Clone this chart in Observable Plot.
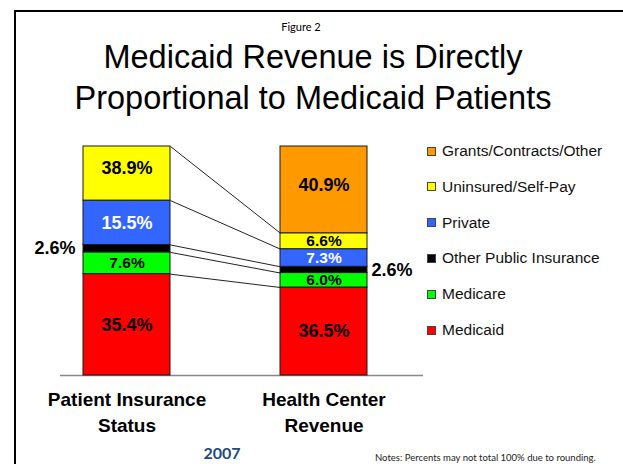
<!DOCTYPE html>
<html><head><meta charset="utf-8">
<script src="https://cdn.jsdelivr.net/npm/d3@7"></script>
<script src="https://cdn.jsdelivr.net/npm/@observablehq/plot@0.6"></script>
<style>
body{margin:0;background:#fff;}
#wrap{position:relative;width:623px;height:464px;overflow:hidden;background:#fff;font-family:"Liberation Sans",Arial,sans-serif;color:#000;}
#frame{position:absolute;left:14px;top:10px;right:-5px;bottom:-5px;border-top:2px solid #000;border-left:2px solid #000;}
.abs{position:absolute;white-space:nowrap;}
#wrap svg{position:absolute;left:0;top:0;}
</style></head><body><div id="wrap"><div id="frame"></div></div>
<script>
const categories = ["Patient Insurance\nStatus", "Health Center\nRevenue"];
const segments = ["Medicaid", "Medicare", "Other Public Insurance", "Private", "Uninsured/Self-Pay", "Grants/Contracts/Other"];
const segmentColors = ["#FF0000", "#00FF00", "#000000", "#3366FF", "#FFFF00", "#FF9900"];
const patientStatus = [35.4, 7.6, 2.6, 15.5, 38.9, 0];
const centerRevenue = [36.5, 6.0, 2.6, 7.3, 6.6, 40.9];
const figureLabel = "Figure 2";
const titleLines = ["Medicaid Revenue is Directly", "Proportional to Medicaid Patients"];
const yearLabel = "2007";
const noteText = "Notes:  Percents may not total 100% due to rounding.";

// axis extents (each bar is drawn on its own vertical scale, tops cut off)
const Y_MAX_LEFT = 80, Y_MAX_RIGHT = 95;
const X_RANGE = [83, 367], PAD = 0.56;
const BW = (X_RANGE[1] - X_RANGE[0]) / (2 - PAD) * (1 - PAD);
const FONT = "Liberation Sans, Arial, sans-serif";

function stack(cat, values, ymax) {
  let c = 0;
  return values.map((v, i) => {
    const r = {cat, seg: segments[i], value: v, y1: c, y2: c + v};
    r.mid = (r.y1 + Math.min(r.y2, ymax)) / 2;
    r.clamped = r.y2 > ymax;
    r.label = v.toFixed(1) + "%";
    c += v;
    return r;
  });
}
const leftStack = stack(categories[0], patientStatus, Y_MAX_LEFT);
const rightStack = stack(categories[1], centerRevenue, Y_MAX_RIGHT);

const common = {
  width: 623, height: 464, marginTop: 146, marginBottom: 89, marginLeft: 60, marginRight: 200,
  x: {domain: categories, range: X_RANGE, paddingInner: PAD, paddingOuter: 0, axis: null},
  color: {domain: segments, range: segmentColors},
  style: {background: "none", overflow: "visible", fontFamily: FONT}
};

function barMarks(rows, outsideAnchor, outsideDx) {
  const shown = rows.filter(d => d.value > 0);
  const inside = shown.filter(d => d.seg !== "Other Public Insurance");
  const outside = shown.filter(d => d.seg === "Other Public Insurance");
  const txt = {x: "cat", y: "mid", text: "label", fontWeight: "bold", fontFamily: FONT,
    fill: d => d.seg === "Private" ? "#fff" : "#000"};
  return [
    Plot.barY(shown, {x: "cat", y1: "y1", y2: "y2", fill: "seg", stroke: "#1a1a1a", strokeWidth: 1}),
    Plot.text(inside.filter(d => !d.clamped && d.value >= 10), {...txt, fontSize: 18}),
    Plot.text(inside.filter(d => d.value < 10), {...txt, fontSize: 15.5}),
    Plot.text(inside.filter(d => d.clamped), {...txt, fontSize: 18, dy: -5}),
    Plot.text(outside, {x: "cat", y: "mid", text: "label", fontSize: 18, fontWeight: "bold", fontFamily: FONT,
      fill: "#000", textAnchor: outsideAnchor, dx: outsideDx})
  ];
}

const plotA = Plot.plot({
  ...common,
  y: {domain: [0, Y_MAX_LEFT], clamp: true, axis: null},
  marks: [
    Plot.ruleY([0], {stroke: "#888", strokeWidth: 1.5}),
    ...barMarks(leftStack, "end", -(BW / 2 + 8)),
    Plot.text(categories, {x: d => d, frameAnchor: "bottom", lineAnchor: "top", dy: 12,
      fontSize: 19, fontWeight: "bold", fontFamily: FONT, lineHeight: 1.37, fill: "#000"})
  ]
});
const plotB = Plot.plot({
  ...common,
  y: {domain: [0, Y_MAX_RIGHT], clamp: true, axis: null},
  marks: barMarks(rightStack, "start", BW / 2 + 4)
});

const sx = plotA.scale("x");
const edgeL = sx.apply(categories[0]) + sx.bandwidth;
const edgeR = sx.apply(categories[1]);
const links = leftStack.slice(0, 5).map((d, i) => ({a: d.y2, b: rightStack[i].y2 * Y_MAX_LEFT / Y_MAX_RIGHT}));
const plotC = Plot.plot({
  width: 623, height: 464, marginTop: 146, marginBottom: 89, marginLeft: 60, marginRight: 200,
  x: {type: "linear", domain: [0, 1], range: [edgeL, edgeR], axis: null},
  y: {domain: [0, Y_MAX_LEFT], clamp: true, axis: null},
  style: {background: "none", overflow: "visible"},
  marks: [Plot.link(links, {x1: 0, x2: 1, y1: "a", y2: "b", stroke: "#222", strokeWidth: 1})]
});

const wrap = document.getElementById("wrap");
wrap.append(plotA, plotB, plotC);

function addDiv(text, css) {
  const d = document.createElement("div");
  d.className = "abs";
  d.innerHTML = text;
  d.style.cssText += css;
  wrap.append(d);
  return d;
}
addDiv(figureLabel, "left:0;width:602px;text-align:center;top:20px;font:11px/13px Lato,sans-serif;");
addDiv(titleLines.join("<br>"), "left:0;width:626px;text-align:center;top:37px;font:32.5px/41px 'Liberation Sans',Arial,sans-serif;");
addDiv(yearLabel, "left:172px;width:100px;text-align:center;top:444px;font:bold 16px/18px Lato,sans-serif;color:#1F497D;");
addDiv(noteText, "left:375px;top:453px;font:9.5px/10px Lato,sans-serif;color:#222;");

// legend (top entry = last segment)
segments.slice().reverse().forEach((s, i) => {
  const color = segmentColors[segments.indexOf(s)];
  const cy = 151 + i * 35.8;
  addDiv("", `left:427px;top:${cy - 4.5}px;width:9px;height:9px;box-sizing:border-box;border:1px solid #444;background:${color};`);
  addDiv(s, `left:442px;top:${cy - 9}px;font:15.5px/18px 'Liberation Sans',Arial,sans-serif;color:#111;`);
});
</script></body></html>
